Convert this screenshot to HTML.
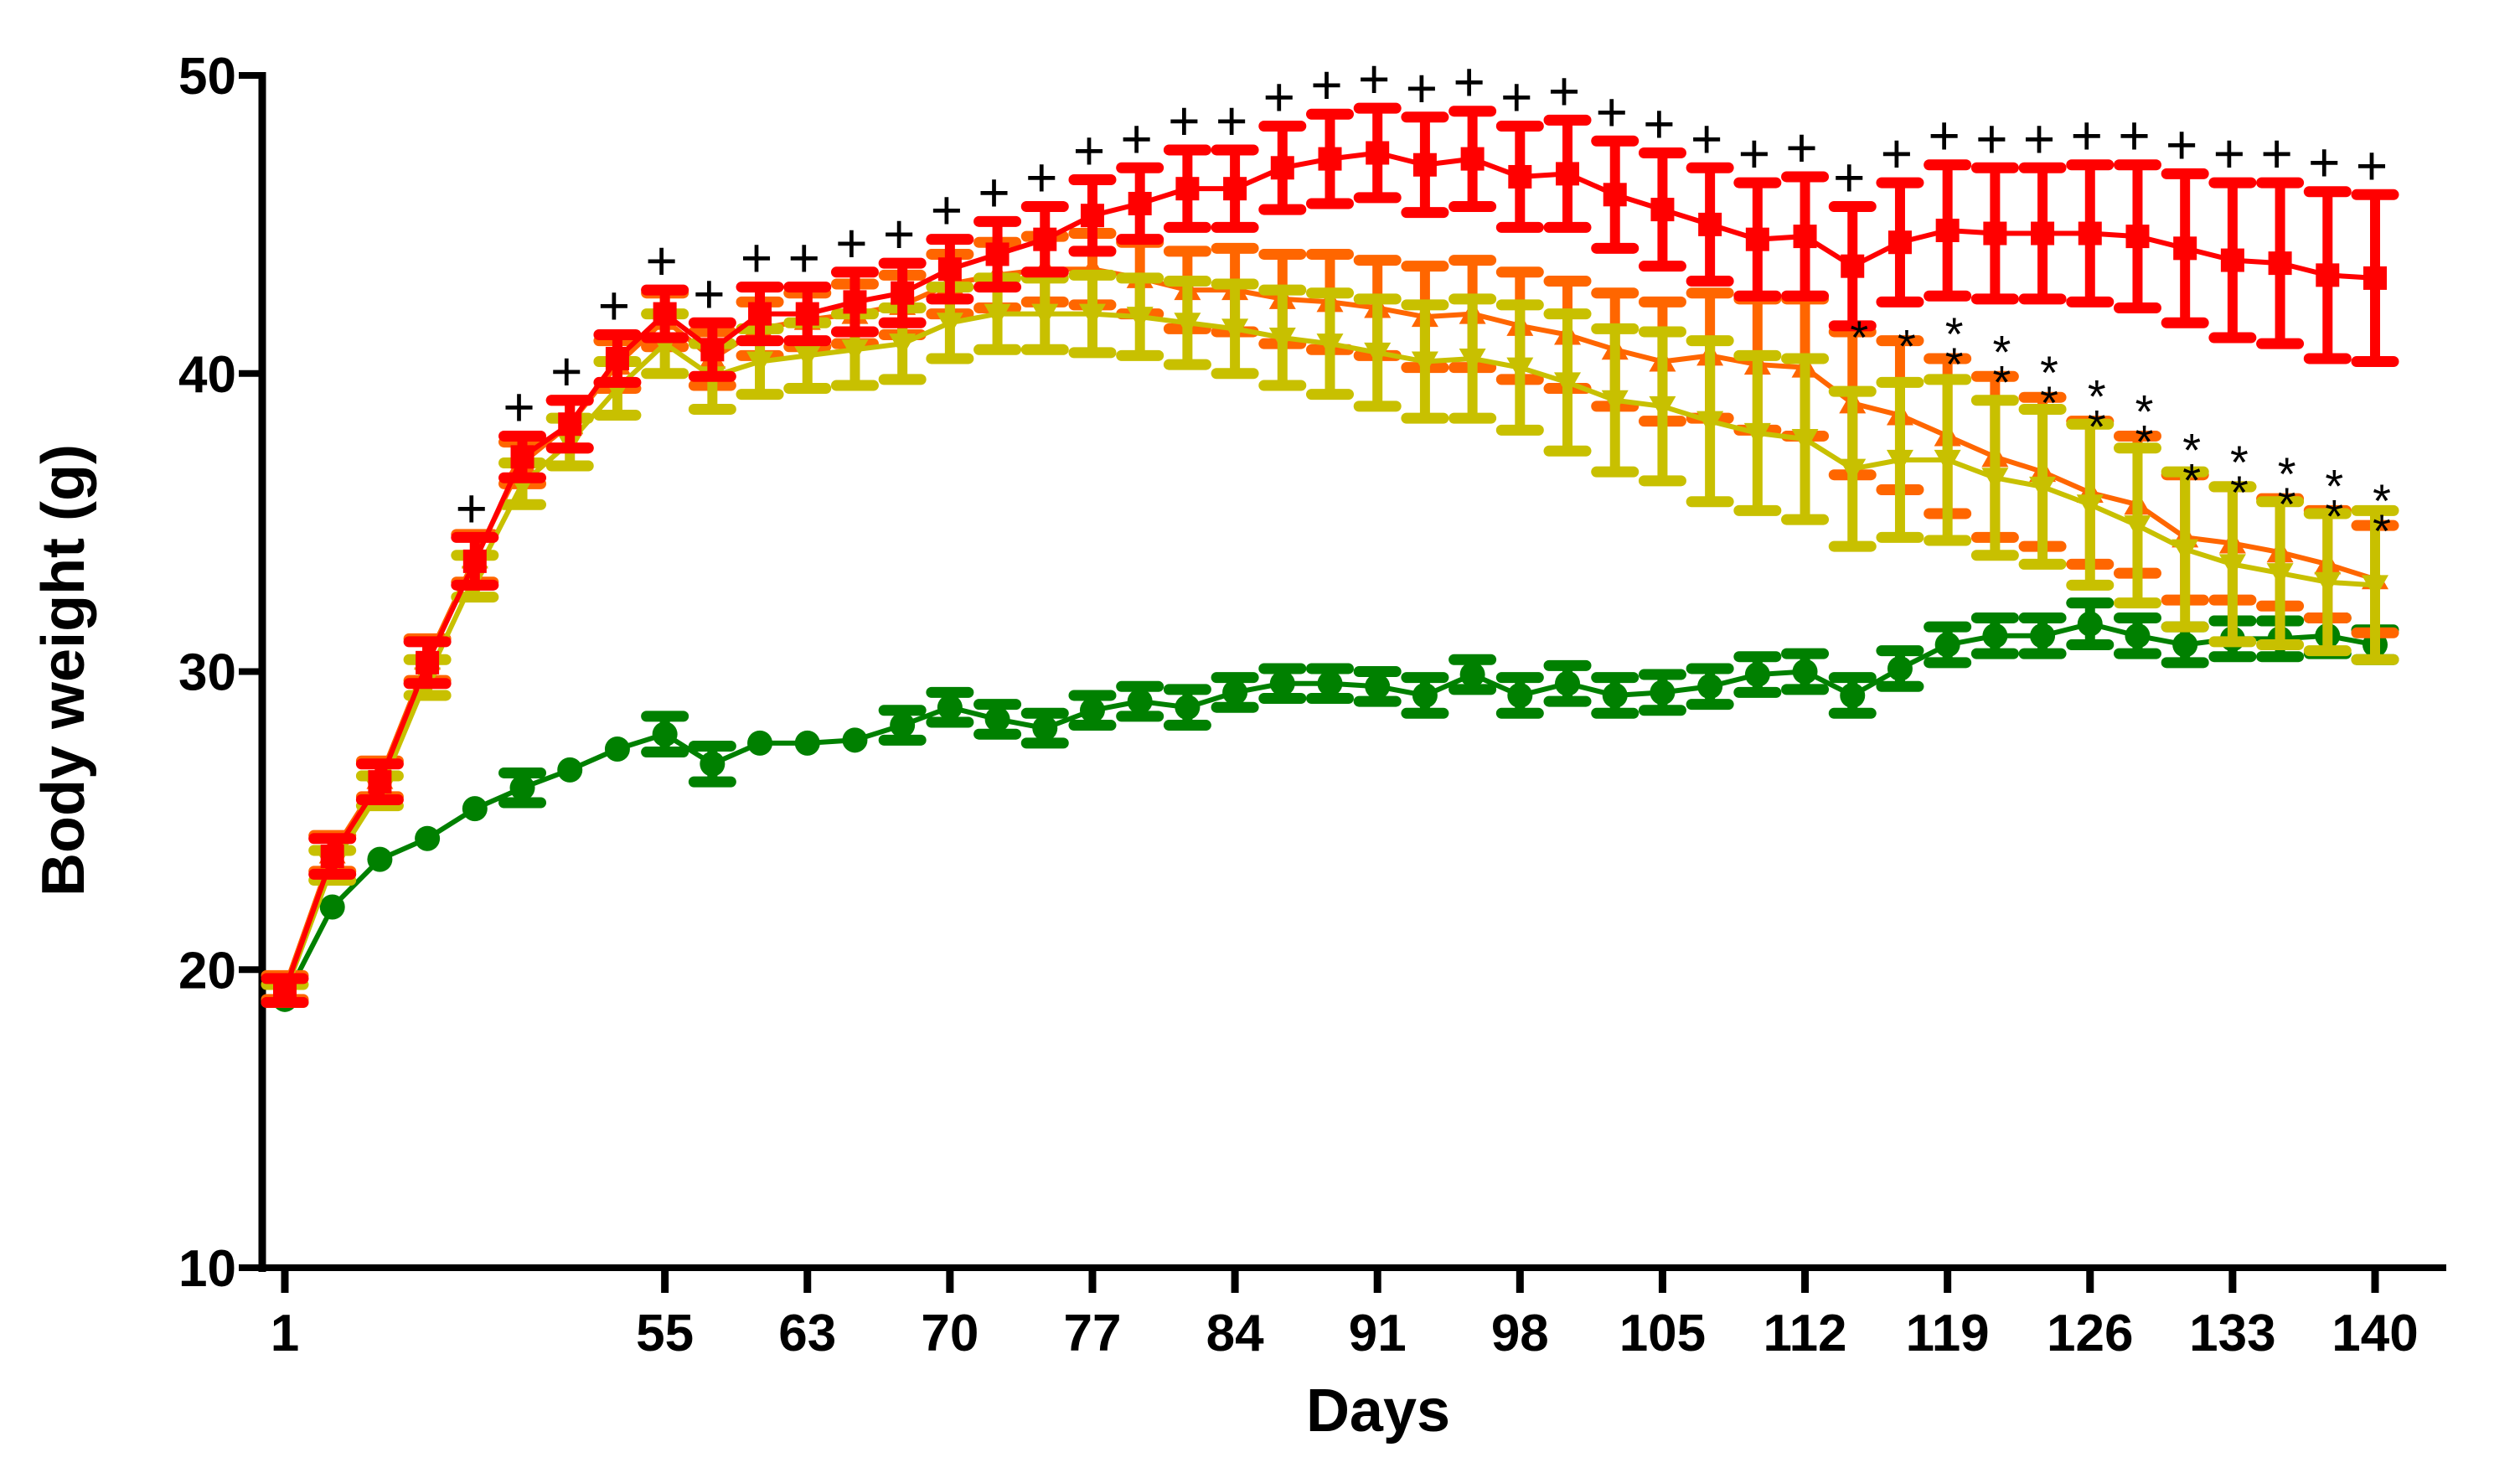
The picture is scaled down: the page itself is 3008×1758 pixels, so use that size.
<!DOCTYPE html>
<html><head><meta charset="utf-8"><style>
html,body{margin:0;padding:0;background:#fff;}
svg{display:block;font-family:"Liberation Sans",Arial,sans-serif;}
</style></head><body>
<svg id="chart" width="3008" height="1758" viewBox="0 0 3008 1758" xmlns="http://www.w3.org/2000/svg">
<g id="axes"></g>
<g id="series"></g>
<g id="annot"></g>
<text x="1645" y="1708" font-size="72" font-weight="bold" text-anchor="middle">Days</text>
<text x="0" y="0" font-size="72" font-weight="bold" text-anchor="middle" transform="translate(100,800) rotate(-90)">Body weight (g)</text>
</svg>
<script>
const tickIdx = [0,8,11,14,17,20,23,26,29,32,35,38,41,44];
const tickLabels = ["1","55","63","70","77","84","91","98","105","112","119","126","133","140"];
const yTicks = [10,20,30,40,50];
const green = [19.0,22.1,23.7,24.4,25.4,26.1,26.7,27.4,27.9,26.9,27.6,27.6,27.7,28.2,28.8,28.4,28.1,28.7,29.0,28.8,29.3,29.6,29.6,29.5,29.2,29.9,29.2,29.6,29.2,29.3,29.5,29.9,30.0,29.2,30.1,30.9,31.2,31.2,31.6,31.2,30.9,31.1,31.1,31.2,30.9];
const greenErr = [0,0,0,0,0,0.5,0,0,0.6,0.6,0,0,0,0.5,0.5,0.5,0.5,0.5,0.5,0.6,0.5,0.5,0.5,0.5,0.6,0.5,0.6,0.6,0.6,0.6,0.6,0.6,0.6,0.6,0.6,0.6,0.6,0.6,0.7,0.6,0.6,0.6,0.6,0.6,0.5];
const red = [19.3,23.8,26.3,30.3,33.7,37.2,38.3,40.5,42.0,40.8,42.0,42.0,42.4,42.7,43.5,44.0,44.5,45.3,45.7,46.2,46.2,46.9,47.2,47.4,47.0,47.2,46.6,46.7,46.0,45.5,45.0,44.5,44.6,43.6,44.4,44.8,44.7,44.7,44.7,44.6,44.2,43.8,43.7,43.3,43.2];
const redErr = [0.4,0.6,0.6,0.7,0.8,0.7,0.8,0.8,0.8,0.9,0.9,0.9,1.0,1.0,1.0,1.1,1.1,1.2,1.2,1.3,1.3,1.4,1.5,1.5,1.6,1.6,1.7,1.8,1.8,1.9,1.9,1.9,2.0,2.0,2.0,2.2,2.2,2.2,2.3,2.4,2.5,2.6,2.7,2.8,2.8];
const orange = [19.4,23.9,26.4,30.4,33.8,37.0,38.3,40.3,41.8,40.5,41.5,41.8,42.0,42.3,43.0,43.3,43.5,43.5,43.2,42.8,42.8,42.5,42.4,42.2,41.9,42.0,41.6,41.3,40.8,40.4,40.6,40.3,40.2,39.0,38.6,37.9,37.2,36.7,36.0,35.6,34.5,34.3,34.0,33.6,33.1];
const orangeErr = [0.4,0.6,0.6,0.7,0.8,0.7,0.8,0.8,0.9,0.9,0.9,0.9,1.0,1.0,1.0,1.1,1.1,1.2,1.2,1.3,1.4,1.5,1.6,1.6,1.7,1.8,1.8,1.8,1.9,2.0,2.1,2.2,2.3,2.4,2.5,2.6,2.7,2.5,2.4,2.3,2.1,1.9,1.8,1.8,1.8];
const yellow = [19.2,23.5,26.0,29.8,33.2,36.3,37.7,39.5,41.0,39.9,40.4,40.6,40.8,41.0,41.7,42.0,42.0,42.0,41.9,41.7,41.5,41.2,41.0,40.7,40.4,40.5,40.2,39.7,39.1,38.9,38.4,38.0,37.8,36.8,37.1,37.1,36.5,36.2,35.6,34.9,34.1,33.6,33.3,33.0,32.9];
const yellowErr = [0.3,0.5,0.5,0.6,0.7,0.7,0.8,0.9,1.0,1.1,1.1,1.1,1.2,1.2,1.2,1.2,1.2,1.3,1.3,1.4,1.5,1.6,1.7,1.8,1.9,2.0,2.1,2.3,2.4,2.5,2.7,2.6,2.7,2.6,2.6,2.7,2.6,2.6,2.7,2.6,2.6,2.6,2.4,2.3,2.5];
const stars = [0,0,0,0,0,0,0,0,0,0,0,0,0,0,0,0,0,0,0,0,0,0,0,0,0,0,0,0,0,0,0,0,0,1,1,2,2,2,2,2,2,2,2,2,2];

const NS="http://www.w3.org/2000/svg";
const X0=340, DX=(2835-340)/44, Y10=1513, Y50=90;
function sx(i){return X0+i*DX;}
function sy(v){return Y10-(v-10)*(Y10-Y50)/40;}
function mk(tag,attrs,parent){const e=document.createElementNS(NS,tag);for(const k in attrs)e.setAttribute(k,attrs[k]);parent.appendChild(e);return e;}
const axes=document.getElementById('axes'), ser=document.getElementById('series'), ann=document.getElementById('annot');

let ya=mk('line',{x1:313,y1:Y50-4,x2:313,y2:Y10+5,stroke:'#000','stroke-width':9},axes);


let xa=mk('line',{x1:309,y1:Y10,x2:2920,y2:Y10,stroke:'#000','stroke-width':8},axes);


yTicks.forEach(v=>{
  const y=sy(v);
  mk('line',{x1:285,y1:y,x2:313,y2:y,stroke:'#000','stroke-width':8},axes);
  const t=mk('text',{x:282,y:y+22,'font-size':62,'font-weight':'bold','text-anchor':'end'},axes);
  t.textContent=v;
  
  
});
tickIdx.forEach((i,k)=>{
  const x=sx(i);
  mk('line',{x1:x,y1:Y10,x2:x,y2:Y10+30,stroke:'#000','stroke-width':9},axes);
  const t=mk('text',{x:x,y:1612,'font-size':62,'font-weight':'bold','text-anchor':'middle'},axes);
  t.textContent=tickLabels[k];
  
  
});

function drawSeries(vals,errs,color,name,marker){
  const g=mk('g',{},ser);
  
  
  const pts=vals.map((v,i)=>sx(i)+','+sy(v)).join(' ');
  mk('polyline',{points:pts,fill:'none',stroke:color,'stroke-width':6},g);
  vals.forEach((v,i)=>{
    const x=sx(i), e=errs[i];
    if(e>0){
      const yt=sy(v+e), yb=sy(v-e);
      mk('line',{x1:x,y1:yt,x2:x,y2:yb,stroke:color,'stroke-width':12},g);
      mk('line',{x1:x-22,y1:yt,x2:x+22,y2:yt,stroke:color,'stroke-width':13,'stroke-linecap':'round'},g);
      mk('line',{x1:x-22,y1:yb,x2:x+22,y2:yb,stroke:color,'stroke-width':13,'stroke-linecap':'round'},g);
    }
    let m;
    if(marker==='circle') m=mk('circle',{cx:x,cy:sy(v),r:15,fill:color},g);
    else if(marker==='square') m=mk('rect',{x:x-14,y:sy(v)-14,width:28,height:28,fill:color},g);
    else if(marker==='tri') m=mk('polygon',{points:`${x-16},${sy(v)-12} ${x+16},${sy(v)-12} ${x},${sy(v)+16}`,fill:color},g);
    else m=mk('polygon',{points:`${x-16},${sy(v)+12} ${x+16},${sy(v)+12} ${x},${sy(v)-16}`,fill:color},g);
    
    
  });
}
drawSeries(green,greenErr,'#008000','control','circle');
drawSeries(orange,orangeErr,'#ff6600','orange-group','tri2');
drawSeries(yellow,yellowErr,'#c8c000','yellow-group','tri');
drawSeries(red,redErr,'#ff0000','red-group','square');

red.forEach((v,i)=>{
  if(i<4) return;
  const t=mk('text',{x:sx(i)-4,y:sy(v+redErr[i])-12,'font-size':66,'text-anchor':'middle'},ann);
  t.textContent='+';
  
  
});
stars.forEach((n,i)=>{
  if(!n) return;
  const base=sy(orange[i]+orangeErr[i])+26;
  for(let k=0;k<n;k++){
    const t=mk('text',{x:sx(i)+8,y:base-k*36,'font-size':56,'text-anchor':'middle'},ann);
    t.textContent='*';
    
    
  }
});
</script>
</body></html>
